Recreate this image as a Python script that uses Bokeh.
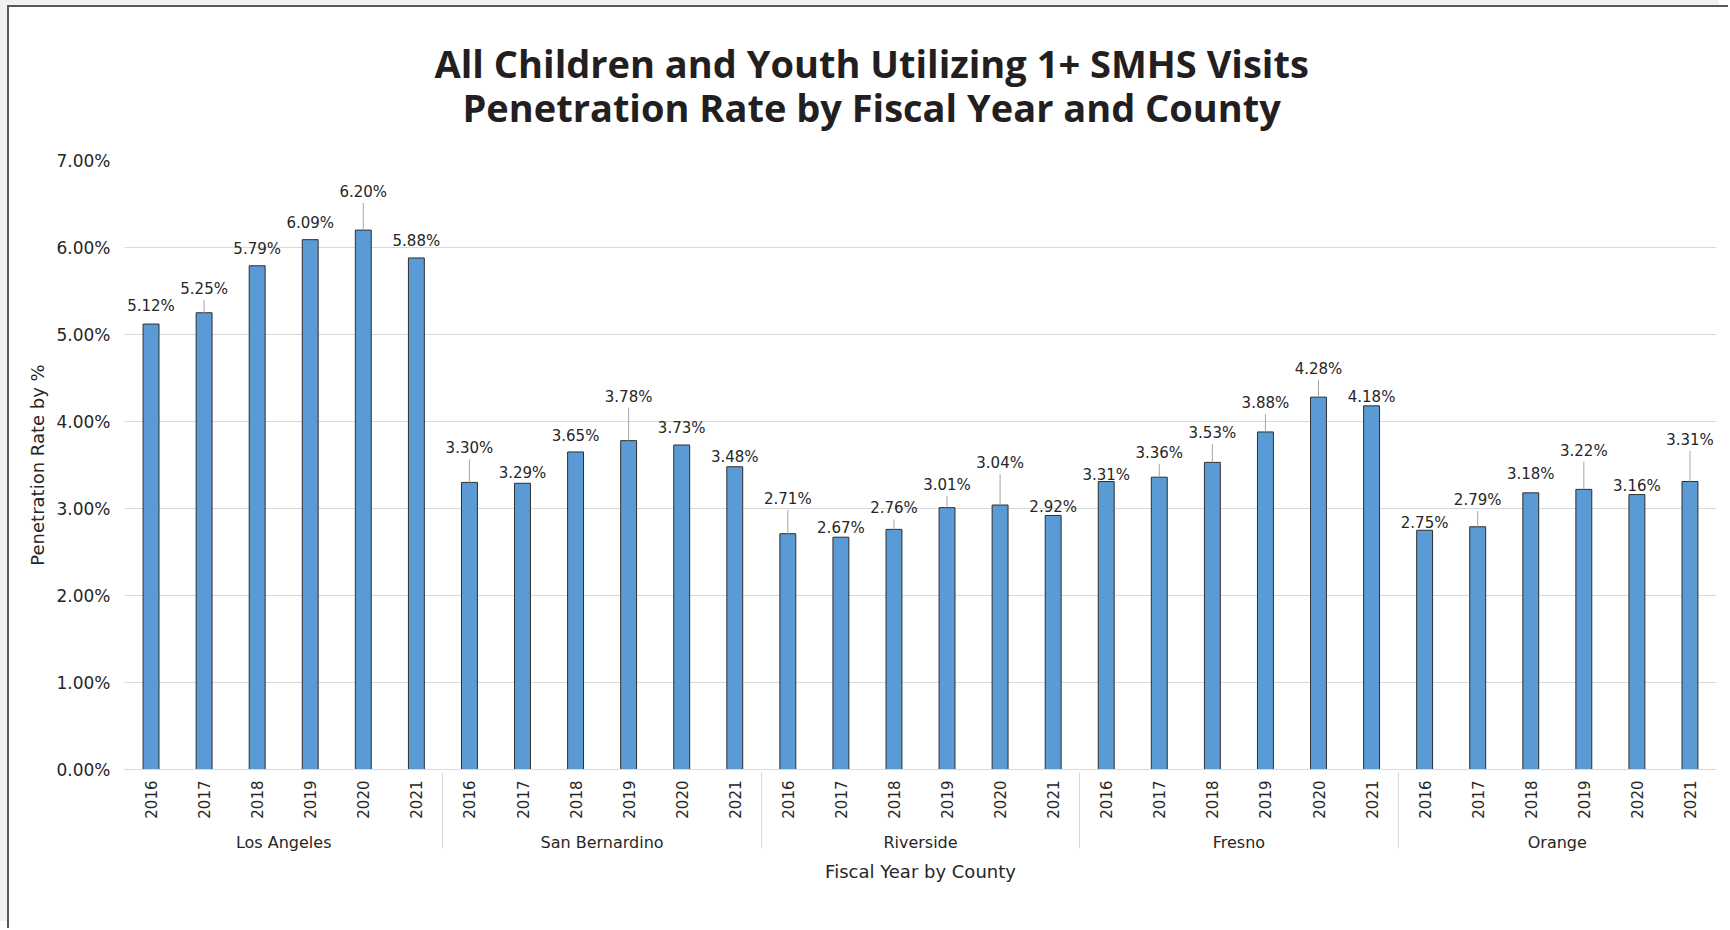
import math
from bokeh.plotting import figure
from bokeh.models import (FactorRange, Range1d, FixedTicker, NumeralTickFormatter,
                          ColumnDataSource, Label)
from bokeh.embed import file_html
from bokeh.resources import INLINE
from bokeh.core.properties import value

# ---------------- data ----------------
counties = ["Los Angeles", "San Bernardino", "Riverside", "Fresno", "Orange"]
years = ["2016", "2017", "2018", "2019", "2020", "2021"]
los_angeles = [5.12, 5.25, 5.79, 6.09, 6.20, 5.88]
san_bernardino = [3.30, 3.29, 3.65, 3.78, 3.73, 3.48]
riverside = [2.71, 2.67, 2.76, 3.01, 3.04, 2.92]
fresno = [3.31, 3.36, 3.53, 3.88, 4.28, 4.18]
orange = [2.75, 2.79, 3.18, 3.22, 3.16, 3.31]
y_ticks = [0, 1, 2, 3, 4, 5, 6, 7]

title_lines = ["All Children and Youth Utilizing 1+ SMHS Visits",
               "Penetration Rate by Fiscal Year and County"]
y_title = "Penetration Rate by %"
x_title = "Fiscal Year by County"

# ---------------- layout (label placement, px above bar top) ----------------
label_dy = [17.7, 24, 16.3, 16.3, 38.3, 16.7,
            34, 10.3, 16, 44, 16.7, 9.7,
            35, 9, 21, 22.7, 42, 8,
            6.3, 24, 29.3, 28.7, 28.3, 9.3,
            7.7, 26.7, 18.7, 38.7, 9, 41.7]

FRAME_H = 609.0
Y_MAX = 0.07
PX = Y_MAX / FRAME_H  # data units per pixel

series = [los_angeles, san_bernardino, riverside, fresno, orange]
factors = [(c, y) for c in counties for y in years]
rates = [v / 100.0 for s in series for v in s]
labels = ["%.2f%%" % (v) for s in series for v in s]

src = ColumnDataSource(dict(x=factors, rate=rates, label=labels,
                            yoff=[-d for d in label_dy]))

lead_x, lead_y0, lead_y1 = [], [], []
for f, r, d in zip(factors, rates, label_dy):
    if d > 20:
        lead_x.append(f)
        lead_y0.append(r)
        lead_y1.append(r + (d - 11) * PX)
lead_src = ColumnDataSource(dict(x=lead_x, y0=lead_y0, y1=lead_y1))

FONT = "DejaVu Sans"
TXT = "#262626"

p = figure(width=1721, height=923,
           x_range=FactorRange(*factors, factor_padding=0, group_padding=0,
                               subgroup_padding=0, range_padding=0),
           y_range=Range1d(0, Y_MAX),
           output_backend="svg", toolbar_location=None, title=None,
           min_border_left=115, min_border_right=14,
           min_border_top=153, min_border_bottom=161)
p.styles = {"margin-left": "7px", "margin-top": "5px",
            "border-left": "2px solid #595959", "border-top": "2px solid #595959",
            "box-shadow": "-9px -7px 0 0 #f2f2f2"}
p.outline_line_color = None
p.background_fill_color = "white"
p.border_fill_color = "white"

p.vbar(x="x", top="rate", width=0.30, source=src,
       fill_color="#5b9bd5", line_color="#2e2e2e", line_width=1)

p.segment(x0="x", y0="y0", x1="x", y1="y1", source=lead_src,
          line_color="#a6a6a6", line_width=1)

p.text(x="x", y="rate", text="label", y_offset="yoff", source=src,
       text_align="center", text_baseline="middle",
       text_font=value(FONT), text_font_size="15px", text_color=TXT)

# y axis
p.yaxis.ticker = FixedTicker(ticks=[t / 100.0 for t in y_ticks])
p.yaxis.formatter = NumeralTickFormatter(format="0.00%")
p.yaxis.axis_line_color = None
p.yaxis.major_tick_line_color = None
p.yaxis.minor_tick_line_color = None
p.yaxis.major_tick_out = 0
p.yaxis.major_label_standoff = 14
p.yaxis.major_label_text_font = FONT
p.yaxis.major_label_text_font_size = "17px"
p.yaxis.major_label_text_color = TXT
p.yaxis.axis_label = y_title
p.yaxis.axis_label_standoff = 5
p.yaxis.axis_label_text_font = FONT
p.yaxis.axis_label_text_font_size = "18px"
p.yaxis.axis_label_text_font_style = "normal"
p.yaxis.axis_label_text_color = TXT

# x axis
xa = p.xaxis[0]
xa.axis_line_color = "#d9d9d9"
xa.axis_line_width = 1
xa.major_tick_line_color = None
xa.major_tick_out = 0
xa.major_tick_in = 0
xa.major_label_orientation = math.pi / 2
xa.major_label_standoff = 11
xa.major_label_text_font = FONT
xa.major_label_text_font_size = "15px"
xa.major_label_text_color = TXT
xa.group_text_font = FONT
xa.group_text_font_size = "16px"
xa.group_text_color = TXT
xa.group_text_font_style = "normal"
xa.separator_line_color = "#d9d9d9"
xa.separator_line_width = 1
xa.axis_label = x_title
xa.axis_label_standoff = 6
xa.axis_label_text_font = FONT
xa.axis_label_text_font_size = "18px"
xa.axis_label_text_font_style = "normal"
xa.axis_label_text_color = TXT

p.xgrid.grid_line_color = None
p.ygrid.grid_line_color = "#d9d9d9"
p.ygrid.grid_line_width = 1

# titles (centered on the canvas), placed in the "above" panel so they are not clipped
title_x = 14.08
for txt, yy in zip(title_lines, [Y_MAX + 98 * PX, Y_MAX + 54 * PX]):
    p.add_layout(Label(x=title_x, y=yy, text=txt, text_align="center",
                       text_baseline="middle", text_font="Open Sans",
                       text_font_style="bold", text_font_size="38px",
                       text_color="#231f20"), "above")

open("out.html", "w").write(file_html(p, INLINE))
